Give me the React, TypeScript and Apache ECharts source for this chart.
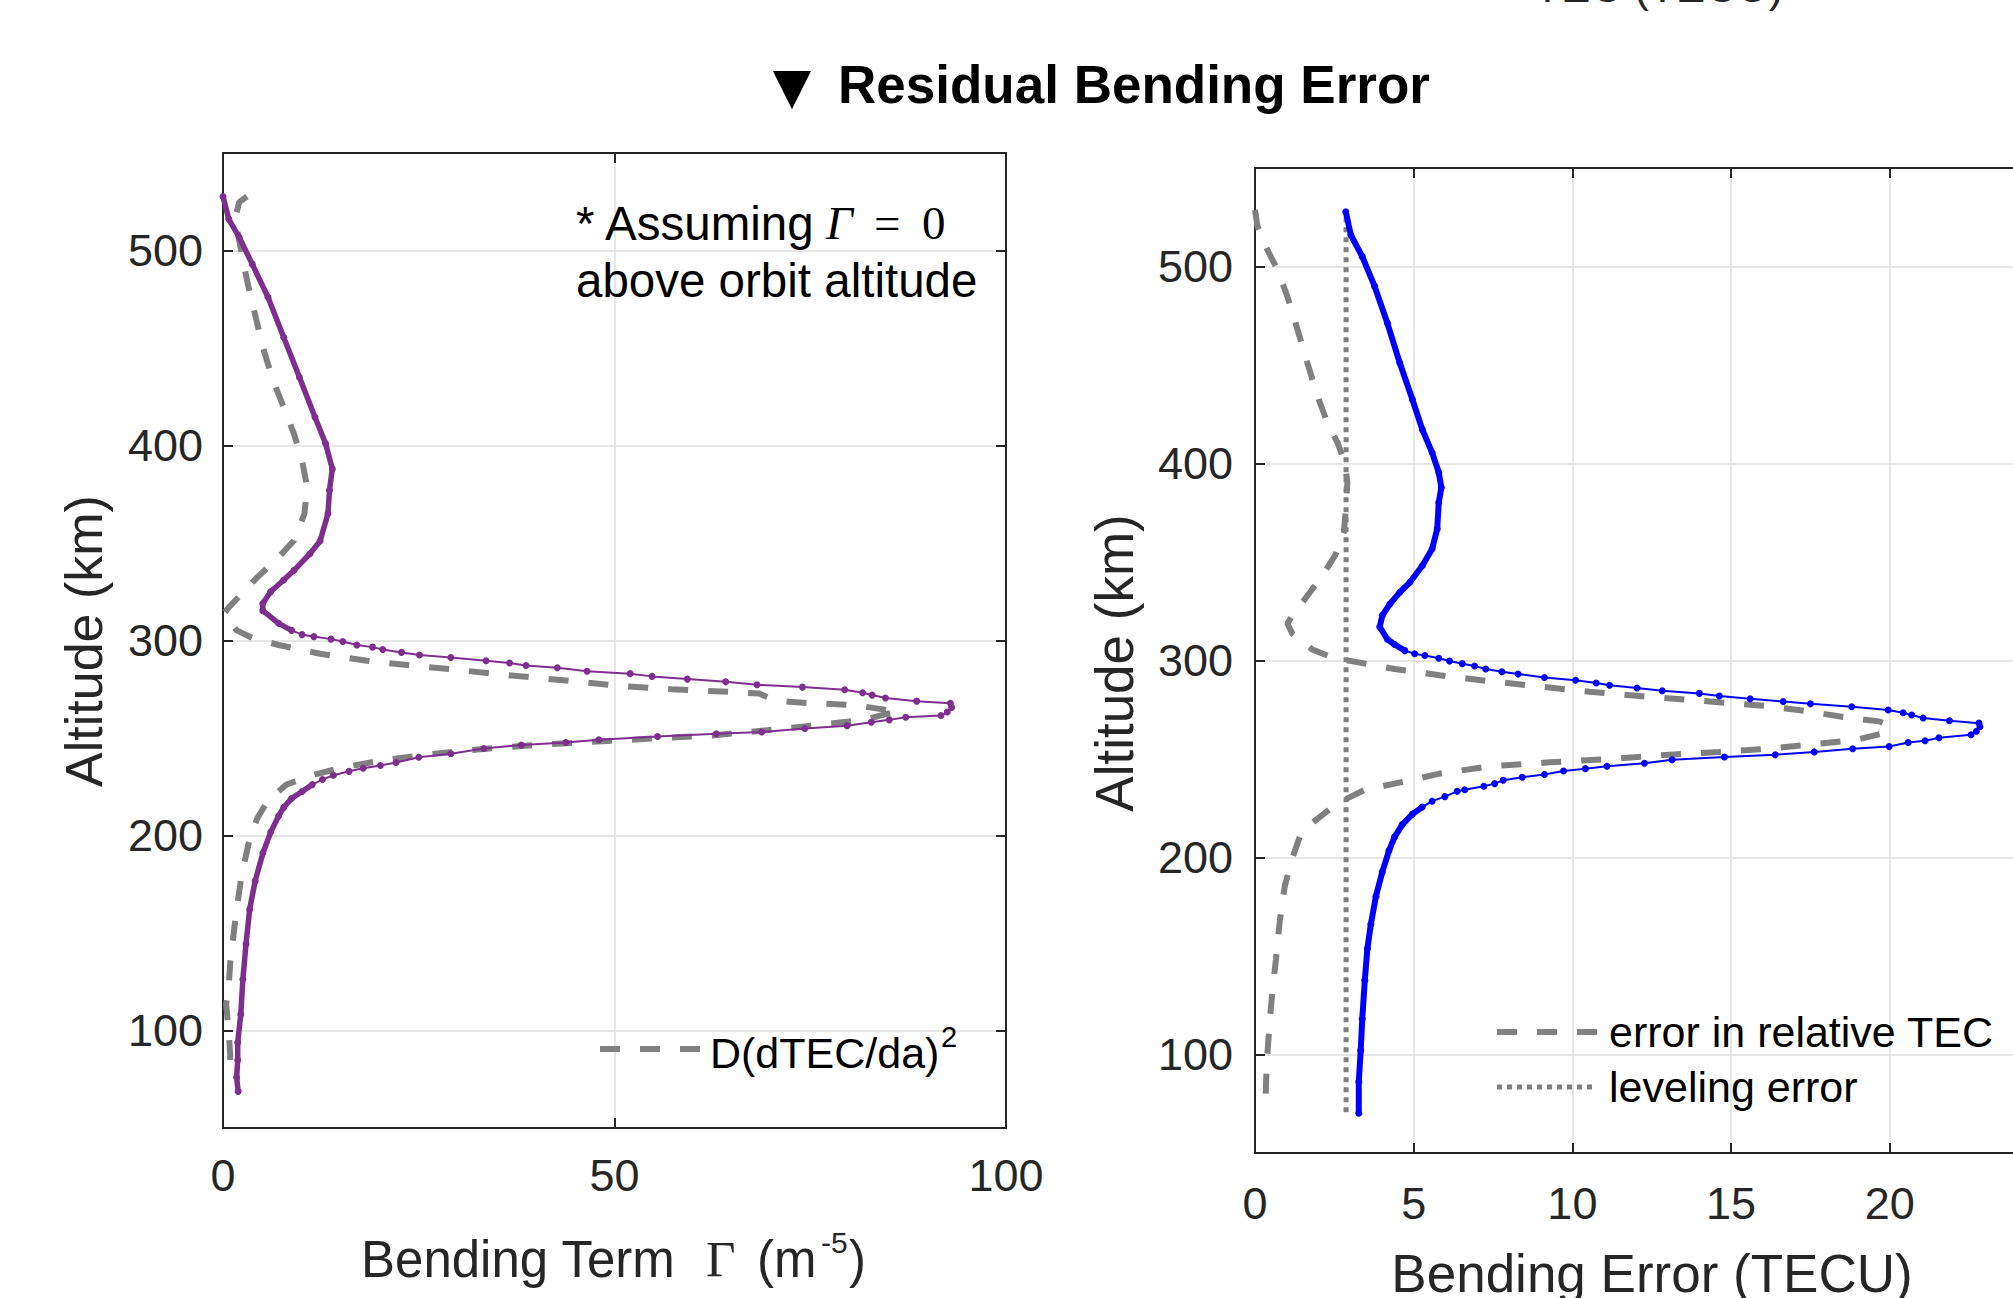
import React, { useEffect, useRef } from "react";
import * as echarts from "echarts";

// ---------- Left panel: bending term Γ (m^-5) vs altitude (km) ----------
const gammaAlt = [527.7, 516, 506.8, 493, 476, 455.5, 435, 414.5, 401, 388, 377, 365, 351, 344.5, 336, 331, 325, 319, 315.3, 308.8, 305.2, 303, 302, 300.7, 299.5, 297.7, 296.6, 295.4, 293.9, 292.6, 291.3, 289.6, 288.5, 287.2, 286, 284.2, 283, 281.6, 280.2, 278.8, 277.3, 276.1, 274.7, 273.2, 272, 270.5, 268.9, 267.8, 265.6, 263.3, 261.5, 260.6, 259.3, 258.1, 256.3, 254.9, 253.1, 252.2, 250.8, 249.1, 247.7, 246.4, 244.6, 241.9, 240.1, 237.4, 235.9, 234.5, 232.9, 230.9, 228.7, 226.1, 222.6, 219, 214.4, 210, 201.8, 191, 176.6, 162, 144.3, 126.3, 108.3, 93.8, 84.9, 75.9, 68.7];
const gammaVal = [0, 0.74, 2.07, 3.74, 5.75, 7.75, 9.76, 11.75, 13.1, 13.96, 13.6, 13.4, 12.4, 11.1, 9.07, 7.75, 6.08, 5.08, 5.08, 7.1, 8.75, 10.1, 11.6, 13.8, 15.3, 17.1, 19.1, 20.4, 22.8, 25.1, 29.1, 33.6, 36.6, 38.7, 42.7, 46.5, 52, 54.8, 59.3, 64.2, 68.2, 74, 79.4, 81.7, 82.9, 84.6, 88.6, 92.9, 93.05, 92.5, 91.7, 87.2, 85.1, 82.8, 79.7, 74.3, 68.8, 63, 55.5, 48, 43.8, 38.1, 33.3, 29.1, 25, 22.1, 20.1, 17.9, 16.1, 14.1, 12.7, 11.4, 10.1, 8.75, 7.75, 7.1, 6.1, 5.1, 4.1, 3.4, 2.94, 2.54, 2.27, 1.88, 1.88, 1.74, 1.94];

const dTecAlt = [527.7, 524.8, 519.6, 512, 498.3, 484.6, 467.5, 450.4, 433.3, 419.6, 406, 392.3, 378.6, 365, 351.3, 342.7, 332.5, 324, 317, 313.7, 305.2, 301.3, 297.7, 293.2, 289.6, 287.3, 285, 282.4, 279.5, 276.8, 275, 273.4, 272.8, 269.2, 268, 266.9, 263.5, 262.6, 259.3, 257.2, 254.4, 251.3, 249.9, 248.2, 246.4, 244.1, 241.4, 238.2, 234.7, 230.6, 226.1, 218, 209, 198.2, 180.3, 162.2, 144.3, 135.3, 122.7, 113.6, 99.3, 86.7, 76];
const dTecVal = [3.07, 2.07, 1.74, 1.74, 2.4, 3.07, 4.08, 5.08, 6.4, 7.75, 9.07, 10.1, 10.75, 10.4, 9.07, 7.1, 4.4, 2.4, 0.74, 0.1, 1.74, 3.74, 7.1, 12.4, 18.4, 23.8, 29.8, 35.8, 43.8, 50.5, 57.2, 65.9, 68.5, 70.5, 74.5, 80.6, 86.2, 85, 81.9, 77.2, 70.5, 62.5, 55.8, 47.8, 39.8, 32.5, 25.8, 19.8, 15.1, 11.1, 8.1, 5.75, 4.4, 3.4, 2.4, 1.74, 1.2, 0.93, 0.74, 0.4, 0.74, 0.93, 0.87];

// ---------- Right panel: bending error (TECU) vs altitude (km) ----------
const bendAlt = [527.8, 516, 505, 489.9, 471.3, 451.1, 432.5, 417.3, 405.5, 395.4, 387.8, 380.2, 366.7, 356.6, 348.1, 339.7, 334.6, 328.7, 322.8, 317, 310.8, 308.1, 305, 303.4, 302.5, 301.1, 299.7, 298.4, 297.2, 295.7, 294.3, 293.1, 291.4, 290, 288.6, 287.4, 286, 284.6, 283.3, 282, 280.6, 279.2, 278, 276.5, 274.9, 273.5, 272.3, 270.8, 269.4, 268.2, 266.4, 264.1, 262.3, 260.8, 259.3, 258.4, 256.3, 255.2, 253.6, 252.2, 251, 249.6, 247.8, 246.3, 245.1, 243.9, 242.1, 240.7, 239.2, 237.5, 236.2, 234.4, 233.6, 230.9, 228.6, 225.6, 222, 216.7, 210.5, 203.4, 192.7, 180.3, 166.1, 153.7, 137.7, 118.1, 102.1, 86.2, 70.2];
const bendVal = [2.86, 3.02, 3.38, 3.77, 4.17, 4.56, 4.96, 5.27, 5.58, 5.79, 5.87, 5.79, 5.74, 5.58, 5.27, 4.88, 4.56, 4.25, 4.01, 3.93, 4.17, 4.4, 4.72, 5.03, 5.35, 5.79, 6.13, 6.53, 6.92, 7.27, 7.78, 8.29, 9.12, 10.1, 10.75, 11.17, 12.04, 12.83, 14, 14.63, 15.6, 16.64, 17.5, 18.8, 19.95, 20.42, 20.69, 21.05, 21.88, 22.81, 22.84, 22.73, 22.56, 21.55, 21.11, 20.58, 19.98, 18.83, 17.62, 16.39, 14.79, 13.14, 12.27, 11.09, 10.41, 9.72, 9.12, 8.42, 7.82, 7.55, 7.21, 6.61, 6.37, 5.98, 5.58, 5.27, 4.96, 4.64, 4.4, 4.22, 4.01, 3.81, 3.65, 3.54, 3.46, 3.38, 3.33, 3.27, 3.27];

const relTecAlt = [528.7, 520.3, 508.5, 498.3, 484.8, 468, 451.1, 434.2, 420.7, 410.6, 400.5, 390.3, 376.8, 365, 353.2, 343, 332.9, 322.8, 318.8, 313.5, 305.5, 301.1, 298.9, 295.7, 292.5, 289.5, 286.8, 284.1, 281.5, 279.4, 277, 274.1, 270.8, 269.1, 266.9, 262.9, 259.8, 257.5, 255.2, 253.6, 252.2, 250, 248.3, 246.3, 242.6, 237.5, 234.4, 230, 224.6, 217.6, 210.5, 199.8, 185.6, 167.8, 148.3, 132.4, 118.1, 100.4, 86.2, 70.2];
const relTecVal = [0, 0.08, 0.39, 0.71, 1.02, 1.34, 1.65, 1.97, 2.28, 2.6, 2.83, 2.91, 2.86, 2.8, 2.52, 2.12, 1.65, 1.18, 1.02, 1.18, 1.81, 2.52, 3.3, 4.4, 5.82, 7.39, 8.97, 10.54, 12.43, 14.16, 16.05, 17.46, 18.72, 19.67, 19.98, 19.74, 18.96, 17.62, 16.2, 14.63, 13.06, 11.17, 9.28, 7.39, 5.82, 4.4, 3.46, 2.91, 2.36, 1.81, 1.41, 1.18, 0.94, 0.78, 0.66, 0.55, 0.47, 0.39, 0.35, 0.32];

const levelingAlt = [525, 70];
const levelingVal = [2.87, 2.87];

// axis ranges
const altRange = [50, 550];
const leftXRange = [0, 100];
const leftXStep = 50;
const rightXRange = [0, 25];
const rightXStep = 5;

// texts
const titleText = "Residual Bending Error";
const legendLeft = "D(dTEC/da)";
const legendRight = ["error in relative TEC", "leveling error"];

const FONT = "'Liberation Sans', Arial, Helvetica, sans-serif";
const SERIF = "'Liberation Serif', 'Times New Roman', serif";
const AXIS_COLOR = "#262626";
const PURPLE = "#7E2F8E";
const BLUE = "#0000FF";
const GRAY = "#808080";

const pts = (vals: number[], alts: number[]) => vals.map((v, i) => [v, alts[i]]);
const ptsWhere = (vals: number[], alts: number[], f: (a: number) => boolean) =>
  vals.map((v, i) => [v, alts[i]]).filter((p) => f(p[1]));

const axisLine = { show: true, onZero: false, lineStyle: { color: AXIS_COLOR, width: 2 } };
const axisTick = { show: true, inside: true, length: 10, lineStyle: { color: AXIS_COLOR, width: 2 } };

function xAxisDef(gridIndex: number, range: number[], step: number, position: string, main: boolean, margin: number) {
  return {
    type: "value",
    gridIndex,
    min: range[0],
    max: range[1],
    interval: step,
    position,
    axisLine,
    axisTick,
    axisLabel: { show: main, fontSize: 45, color: AXIS_COLOR, fontFamily: FONT, margin },
    splitLine: { show: main, lineStyle: { color: "#dedede", width: 1.5 } },
  };
}
function yAxisDef(gridIndex: number, position: string, main: boolean, margin: number) {
  return {
    type: "value",
    gridIndex,
    min: altRange[0],
    max: altRange[1],
    splitNumber: 5,
    position,
    axisLine,
    axisTick,
    axisLabel: { show: main, fontSize: 45, color: AXIS_COLOR, fontFamily: FONT, margin, showMinLabel: false, showMaxLabel: false },
    splitLine: { show: main, lineStyle: { color: "#dedede", width: 1.5 } },
  };
}

function txt(text: string, x: number, y: number, size: number, o: any = {}) {
  return {
    type: "text",
    x,
    y,
    rotation: o.rotation || 0,
    z: 100,
    style: {
      text,
      fill: o.color || "#000",
      fontSize: size,
      fontFamily: o.family || FONT,
      fontWeight: o.weight || "normal",
      fontStyle: o.italic ? "italic" : "normal",
      align: o.align || "left",
      verticalAlign: "middle",
    },
  };
}

function buildOption() {
  return {
    animation: false,
    backgroundColor: "#ffffff",
    grid: [
      { left: 223, top: 153, width: 783, height: 975, containLabel: false, outerBoundsMode: "none" },
      { left: 1255, top: 168, width: 793.5, height: 985, containLabel: false, outerBoundsMode: "none" },
    ],
    xAxis: [
      xAxisDef(0, leftXRange, leftXStep, "bottom", true, 25),
      xAxisDef(0, leftXRange, leftXStep, "top", false, 8),
      xAxisDef(1, rightXRange, rightXStep, "bottom", true, 28),
      xAxisDef(1, rightXRange, rightXStep, "top", false, 8),
    ],
    yAxis: [
      yAxisDef(0, "left", true, 20),
      yAxisDef(0, "right", false, 8),
      yAxisDef(1, "left", true, 22),
      yAxisDef(1, "right", false, 8),
    ],
    series: [
      {
        type: "line", name: "D(dTEC/da)^2", xAxisIndex: 0, yAxisIndex: 0,
        data: pts(dTecVal, dTecAlt), symbol: "none",
        lineStyle: { color: GRAY, width: 6, type: [20, 20] }, z: 2,
      },
      {
        type: "line", name: "Γ", xAxisIndex: 0, yAxisIndex: 0,
        data: pts(gammaVal, gammaAlt), symbol: "circle", symbolSize: 7,
        itemStyle: { color: PURPLE }, lineStyle: { color: PURPLE, width: 2 }, z: 3,
      },
      {
        type: "line", name: "Γ upper", xAxisIndex: 0, yAxisIndex: 0,
        data: ptsWhere(gammaVal, gammaAlt, (a) => a >= 305), symbol: "none",
        lineStyle: { color: PURPLE, width: 5.5 }, z: 3,
      },
      {
        type: "line", name: "Γ lower", xAxisIndex: 0, yAxisIndex: 0,
        data: ptsWhere(gammaVal, gammaAlt, (a) => a <= 226.5), symbol: "none",
        lineStyle: { color: PURPLE, width: 5.5 }, z: 3,
      },
      {
        type: "line", name: "error in relative TEC", xAxisIndex: 2, yAxisIndex: 2,
        data: pts(relTecVal, relTecAlt), symbol: "none",
        lineStyle: { color: GRAY, width: 6, type: [20, 20] }, z: 2,
      },
      {
        type: "line", name: "leveling error", xAxisIndex: 2, yAxisIndex: 2,
        data: pts(levelingVal, levelingAlt), symbol: "none",
        lineStyle: { color: GRAY, width: 5, type: [5, 5] }, z: 2,
      },
      {
        type: "line", name: "Bending error", xAxisIndex: 2, yAxisIndex: 2,
        data: pts(bendVal, bendAlt), symbol: "circle", symbolSize: 7,
        itemStyle: { color: BLUE }, lineStyle: { color: BLUE, width: 2 }, z: 3,
      },
      {
        type: "line", name: "Bending error upper", xAxisIndex: 2, yAxisIndex: 2,
        data: ptsWhere(bendVal, bendAlt, (a) => a >= 305), symbol: "none",
        lineStyle: { color: BLUE, width: 6 }, z: 3,
      },
      {
        type: "line", name: "Bending error lower", xAxisIndex: 2, yAxisIndex: 2,
        data: ptsWhere(bendVal, bendAlt, (a) => a <= 226), symbol: "none",
        lineStyle: { color: BLUE, width: 6 }, z: 3,
      },
    ],
    graphic: [
      // clipped label of a panel above
      txt("TEC (TECU)", 1534, -14, 44, { color: AXIS_COLOR }),
      // title
      txt("▼", 792, 86, 50, { family: "'DejaVu Sans', sans-serif", align: "center" }),
      txt(titleText, 838, 84, 53, { weight: "bold" }),
      // left panel axis titles
      txt("Altitude (km)", 84, 641, 52, { rotation: Math.PI / 2, align: "center", color: AXIS_COLOR }),
      txt("Bending Term", 361, 1259, 51, { color: AXIS_COLOR }),
      txt("Γ", 706, 1259, 51, { family: SERIF, color: AXIS_COLOR }),
      txt("(m", 757, 1259, 51, { color: AXIS_COLOR }),
      txt("-5", 821, 1242, 30, { color: AXIS_COLOR }),
      txt(")", 849, 1259, 51, { color: AXIS_COLOR }),
      // annotation
      txt("* Assuming", 576, 223, 47.5),
      txt("Γ", 826, 223, 47, { family: SERIF, italic: true }),
      txt("=", 874, 223, 47, { family: SERIF }),
      txt("0", 922, 223, 47, { family: SERIF }),
      txt("above orbit altitude", 576, 280, 47.5),
      // left legend
      { type: "line", z: 100, shape: { x1: 600, y1: 1049, x2: 701, y2: 1049 }, style: { stroke: GRAY, lineWidth: 6, lineDash: [20, 20] } },
      txt(legendLeft, 710, 1053, 43),
      txt("2", 941, 1037, 29),
      // right panel axis titles
      txt("Altitude (km)", 1114, 663, 53, { rotation: Math.PI / 2, align: "center", color: AXIS_COLOR }),
      txt("Bending Error (TECU)", 1652, 1273, 53, { align: "center", color: AXIS_COLOR }),
      // right legend
      { type: "line", z: 100, shape: { x1: 1497, y1: 1032, x2: 1600, y2: 1032 }, style: { stroke: GRAY, lineWidth: 6, lineDash: [20, 20] } },
      txt(legendRight[0], 1609, 1032, 43),
      { type: "line", z: 100, shape: { x1: 1497, y1: 1087, x2: 1597, y2: 1087 }, style: { stroke: GRAY, lineWidth: 5, lineDash: [5, 5] } },
      txt(legendRight[1], 1609, 1087, 43),
    ],
  };
}

export default function App() {
  const ref = useRef<HTMLDivElement>(null);
  useEffect(() => {
    document.body.style.margin = "0";
    document.body.style.overflow = "hidden";
    const chart = echarts.init(ref.current as HTMLDivElement, null, { renderer: "svg", width: 2013, height: 1298 });
    chart.setOption(buildOption() as any);
    return () => chart.dispose();
  }, []);
  return (
    <div
      ref={ref}
      style={{ position: "fixed", left: 0, top: 0, width: 2013, height: 1298, background: "#fff" }}
    />
  );
}
